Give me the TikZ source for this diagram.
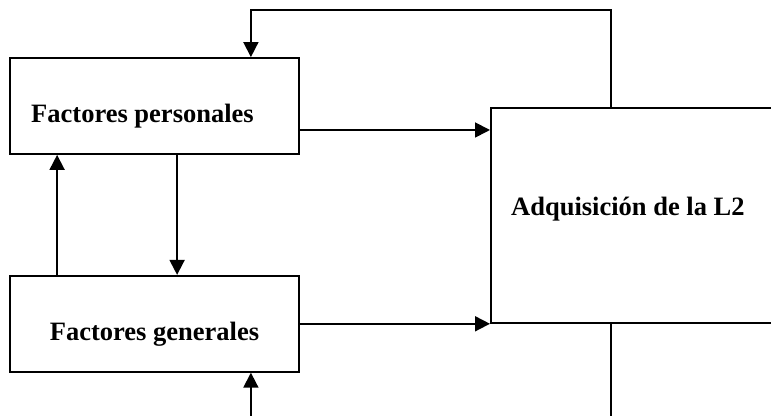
\documentclass[tikz,border=0pt]{standalone}
\usepackage{fontspec}
\setmainfont{Liberation Serif}
\usetikzlibrary{positioning,arrows.meta}
\tikzset{
  fbox/.style={draw=black, line width=0.9pt, minimum width=144.5pt,
               minimum height=48pt, inner sep=0pt},
  abox/.style={draw=black, line width=0.9pt, minimum width=150pt,
               minimum height=107.5pt, inner sep=0pt, anchor=north west},
  lbl/.style={font=\fontsize{13.25}{16}\selectfont\bfseries, inner sep=0pt, anchor=base},
  fa/.style={-{Triangle[length=7.5pt,width=7.5pt]}, line width=0.9pt}
}
\begin{document}
\begin{tikzpicture}[x=0.5pt,y=0.5pt,node distance=60pt]
  \useasboundingbox (0,0) rectangle (771,416);
  \clip (0,0) rectangle (771,416);
  \node[fbox] (pers) at (154.5,310) {};
  \node[fbox, below=of pers] (gen) {};
  \node[abox] (adq) at (490,309) {};
  \node[lbl] (tpers) at ([xshift=-6pt,yshift=-8.5pt]pers.center) {Factores personales};
  \node[lbl] (tgen) at ([yshift=-8.5pt]gen.center) {Factores generales};
  \node[lbl] (tadq) at ([xshift=-6.5pt,yshift=-0.25pt]adq.center) {Adquisición de la L2};
  \coordinate (loopT) at (611,406);
  \coordinate (loopB) at (611,-10);
  \draw[fa] ([yshift=-12pt]pers.east) -- ([yshift=-12pt]pers.east -| adq.west);
  \draw[fa] (gen.east) -- (gen.east -| adq.west);
  \draw[fa] (loopT |- adq.north) -- (loopT) -| ([xshift=-24.5pt]pers.north east);
  \draw[fa] (loopB |- adq.south) -- (loopB) -| ([xshift=-24.5pt]gen.south east);
  \draw[fa] ([xshift=24pt]gen.north west) -- ([xshift=24pt]pers.south west);
  \draw[fa] ([xshift=84pt]pers.south west) -- ([xshift=84pt]gen.north west);
\end{tikzpicture}
\end{document}
